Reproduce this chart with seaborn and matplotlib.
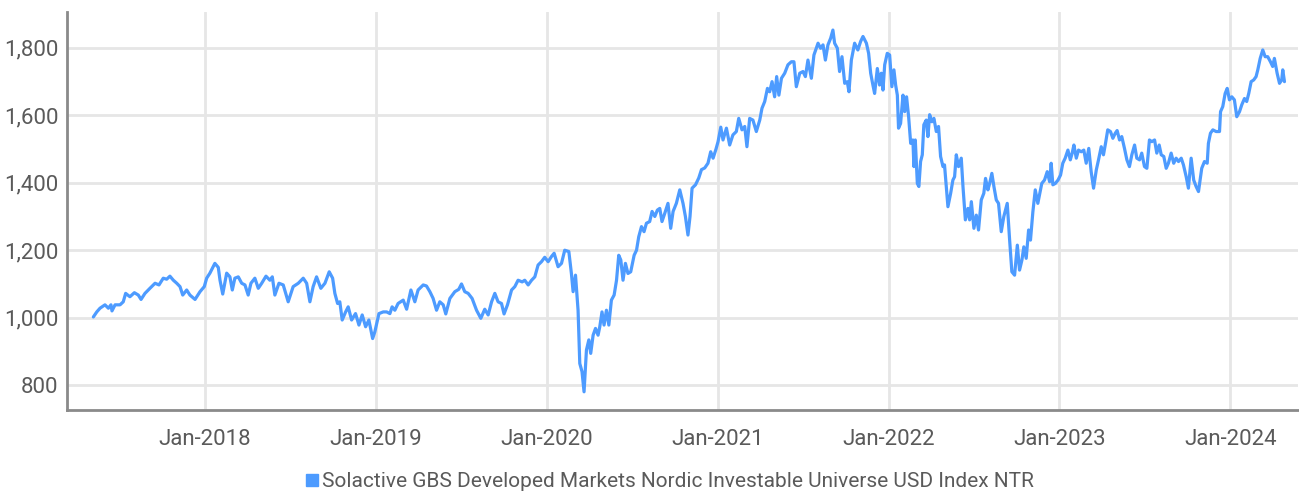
import matplotlib
matplotlib.use("Agg")
import matplotlib.pyplot as plt
import matplotlib.dates as mdates
from matplotlib.lines import Line2D
from matplotlib.ticker import FuncFormatter
import seaborn as sns
import pandas as pd
import numpy as np

# series: decimal year -> index level
years = [
    2017.347, 2017.367, 2017.386, 2017.415, 2017.435, 2017.450, 2017.456, 2017.474, 2017.503, 2017.522,
    2017.536, 2017.561, 2017.587, 2017.610, 2017.626, 2017.649, 2017.678, 2017.708, 2017.731, 2017.756,
    2017.776, 2017.795, 2017.815, 2017.835, 2017.854, 2017.870, 2017.893, 2017.912, 2017.942, 2017.971,
    2017.996, 2018.010, 2018.029, 2018.058, 2018.078, 2018.088, 2018.104, 2018.127, 2018.146, 2018.160,
    2018.175, 2018.195, 2018.215, 2018.234, 2018.253, 2018.269, 2018.292, 2018.312, 2018.332, 2018.357,
    2018.380, 2018.394, 2018.409, 2018.433, 2018.458, 2018.487, 2018.516, 2018.546, 2018.575, 2018.595,
    2018.614, 2018.633, 2018.653, 2018.678, 2018.702, 2018.727, 2018.747, 2018.760, 2018.776, 2018.789,
    2018.803, 2018.823, 2018.838, 2018.858, 2018.881, 2018.901, 2018.920, 2018.940, 2018.959, 2018.981,
    2018.994, 2019.018, 2019.043, 2019.063, 2019.082, 2019.095, 2019.111, 2019.130, 2019.160, 2019.180,
    2019.205, 2019.228, 2019.247, 2019.277, 2019.296, 2019.316, 2019.335, 2019.355, 2019.374, 2019.394,
    2019.409, 2019.433, 2019.462, 2019.485, 2019.501, 2019.520, 2019.540, 2019.563, 2019.589, 2019.614,
    2019.637, 2019.657, 2019.677, 2019.696, 2019.715, 2019.735, 2019.750, 2019.770, 2019.794, 2019.813,
    2019.832, 2019.856, 2019.871, 2019.891, 2019.911, 2019.930, 2019.949, 2019.969, 2019.988, 2020.008,
    2020.027, 2020.043, 2020.066, 2020.086, 2020.105, 2020.129, 2020.144, 2020.154, 2020.168, 2020.183,
    2020.193, 2020.206, 2020.218, 2020.232, 2020.246, 2020.257, 2020.271, 2020.285, 2020.300, 2020.310,
    2020.323, 2020.335, 2020.349, 2020.363, 2020.378, 2020.394, 2020.408, 2020.421, 2020.433, 2020.446,
    2020.460, 2020.475, 2020.491, 2020.511, 2020.525, 2020.538, 2020.554, 2020.569, 2020.583, 2020.602,
    2020.616, 2020.632, 2020.647, 2020.661, 2020.674, 2020.690, 2020.709, 2020.725, 2020.739, 2020.758,
    2020.778, 2020.797, 2020.811, 2020.826, 2020.838, 2020.850, 2020.870, 2020.889, 2020.905, 2020.924,
    2020.943, 2020.959, 2020.973, 2020.990, 2021.002, 2021.018, 2021.031, 2021.051, 2021.070, 2021.089,
    2021.109, 2021.123, 2021.142, 2021.158, 2021.171, 2021.187, 2021.206, 2021.226, 2021.246, 2021.259,
    2021.275, 2021.291, 2021.304, 2021.318, 2021.333, 2021.345, 2021.358, 2021.373, 2021.392, 2021.411,
    2021.431, 2021.446, 2021.460, 2021.480, 2021.499, 2021.513, 2021.528, 2021.548, 2021.563, 2021.587,
    2021.602, 2021.616, 2021.630, 2021.645, 2021.661, 2021.674, 2021.684, 2021.700, 2021.713, 2021.727,
    2021.743, 2021.758, 2021.768, 2021.782, 2021.801, 2021.820, 2021.836, 2021.850, 2021.870, 2021.883,
    2021.895, 2021.908, 2021.918, 2021.934, 2021.947, 2021.957, 2021.967, 2021.977, 2021.992, 2022.006,
    2022.019, 2022.031, 2022.041, 2022.051, 2022.058, 2022.070, 2022.084, 2022.094, 2022.105, 2022.117,
    2022.129, 2022.142, 2022.148, 2022.156, 2022.168, 2022.177, 2022.187, 2022.197, 2022.206, 2022.220,
    2022.230, 2022.240, 2022.253, 2022.265, 2022.279, 2022.292, 2022.304, 2022.318, 2022.327, 2022.337,
    2022.347, 2022.363, 2022.376, 2022.386, 2022.396, 2022.409, 2022.425, 2022.435, 2022.449, 2022.464,
    2022.474, 2022.484, 2022.499, 2022.513, 2022.526, 2022.542, 2022.557, 2022.567, 2022.581, 2022.591,
    2022.604, 2022.616, 2022.630, 2022.643, 2022.659, 2022.674, 2022.694, 2022.708, 2022.721, 2022.737,
    2022.753, 2022.766, 2022.780, 2022.791, 2022.805, 2022.819, 2022.830, 2022.844, 2022.858, 2022.873,
    2022.896, 2022.912, 2022.928, 2022.942, 2022.951, 2022.961, 2022.975, 2022.991, 2023.006, 2023.019,
    2023.033, 2023.049, 2023.063, 2023.074, 2023.084, 2023.098, 2023.111, 2023.127, 2023.142, 2023.156,
    2023.171, 2023.185, 2023.199, 2023.215, 2023.228, 2023.244, 2023.257, 2023.269, 2023.282, 2023.298,
    2023.312, 2023.326, 2023.337, 2023.351, 2023.364, 2023.380, 2023.394, 2023.409, 2023.423, 2023.439,
    2023.452, 2023.468, 2023.481, 2023.497, 2023.511, 2023.526, 2023.540, 2023.556, 2023.569, 2023.583,
    2023.595, 2023.610, 2023.624, 2023.637, 2023.653, 2023.668, 2023.682, 2023.696, 2023.712, 2023.725,
    2023.741, 2023.754, 2023.770, 2023.785, 2023.799, 2023.813, 2023.832, 2023.848, 2023.864, 2023.871,
    2023.883, 2023.897, 2023.916, 2023.936, 2023.942, 2023.955, 2023.969, 2023.981, 2023.994, 2024.008,
    2024.023, 2024.037, 2024.053, 2024.066, 2024.082, 2024.095, 2024.107, 2024.121, 2024.136, 2024.150,
    2024.160, 2024.174, 2024.189, 2024.203, 2024.218, 2024.234, 2024.247, 2024.257, 2024.273, 2024.287,
    2024.300, 2024.306, 2024.316,
]

levels = [
    1002, 1017, 1028, 1038, 1028, 1038, 1020, 1038, 1038, 1047,
    1072, 1062, 1074, 1067, 1054, 1072, 1087, 1102, 1097, 1117,
    1114, 1123, 1111, 1102, 1092, 1067, 1082, 1067, 1054, 1077,
    1092, 1117, 1132, 1161, 1149, 1111, 1070, 1132, 1121, 1082,
    1117, 1121, 1102, 1097, 1067, 1102, 1117, 1087, 1102, 1123,
    1111, 1121, 1067, 1102, 1097, 1047, 1092, 1102, 1117, 1102,
    1047, 1092, 1121, 1087, 1102, 1136, 1117, 1072, 1042, 1047,
    993, 1017, 1032, 993, 1012, 978, 1008, 973, 993, 938,
    958, 1012, 1017, 1017, 1012, 1032, 1022, 1042, 1052, 1025,
    1082, 1047, 1082, 1097, 1094, 1077, 1057, 1022, 1047, 1038,
    1011, 1057, 1077, 1084, 1100, 1077, 1072, 1057, 1022, 998,
    1025, 1008, 1047, 1072, 1047, 1042, 1011, 1038, 1082, 1092,
    1111, 1106, 1111, 1097, 1111, 1121, 1156, 1166, 1179, 1166,
    1181, 1191, 1151, 1161, 1200, 1196, 1131, 1077, 1126, 1022,
    864, 840, 780, 904, 934, 894, 948, 968, 948, 973,
    1017, 978, 1022, 978, 1052, 1067, 1111, 1185, 1171, 1111,
    1161, 1131, 1136, 1185, 1200, 1240, 1270, 1255, 1280, 1285,
    1315, 1300, 1319, 1324, 1285, 1309, 1339, 1265, 1315, 1339,
    1379, 1339, 1300, 1245, 1300, 1384, 1394, 1414, 1439, 1444,
    1458, 1492, 1473, 1500, 1522, 1565, 1527, 1562, 1512, 1542,
    1552, 1591, 1557, 1567, 1507, 1591, 1586, 1552, 1586, 1621,
    1641, 1680, 1670, 1700, 1655, 1715, 1660, 1710, 1725, 1750,
    1759, 1759, 1685, 1725, 1730, 1715, 1764, 1710, 1779, 1814,
    1799, 1809, 1764, 1809, 1829, 1853, 1814, 1799, 1730, 1774,
    1695, 1700, 1670, 1764, 1814, 1794, 1819, 1834, 1814, 1784,
    1725, 1690, 1665, 1739, 1690, 1725, 1675, 1750, 1784, 1779,
    1685, 1735, 1690, 1660, 1562, 1576, 1660, 1611, 1655, 1596,
    1517, 1527, 1448, 1527, 1398, 1389, 1463, 1483, 1572, 1586,
    1537, 1602, 1581, 1591, 1552, 1567, 1478, 1448, 1453, 1389,
    1329, 1369, 1408, 1418, 1483, 1448, 1473, 1389, 1290, 1324,
    1290, 1344, 1265, 1304, 1260, 1349, 1369, 1413, 1379, 1398,
    1428, 1389, 1349, 1339, 1255, 1300, 1339, 1230, 1136, 1126,
    1215, 1141, 1171, 1210, 1176, 1260, 1230, 1314, 1379, 1339,
    1398, 1408, 1433, 1403, 1458, 1394, 1398, 1408, 1423, 1458,
    1473, 1497, 1468, 1488, 1512, 1473, 1497, 1492, 1497, 1458,
    1502, 1433, 1384, 1438, 1468, 1507, 1483, 1517, 1557, 1552,
    1532, 1547, 1555, 1527, 1537, 1502, 1468, 1448, 1483, 1512,
    1473, 1468, 1488, 1448, 1443, 1527, 1522, 1527, 1488, 1512,
    1483, 1478, 1443, 1458, 1488, 1458, 1473, 1463, 1473, 1453,
    1418, 1384, 1473, 1408, 1389, 1374, 1443, 1463, 1458, 1517,
    1547, 1557, 1552, 1552, 1611, 1626, 1665, 1680, 1646, 1655,
    1646, 1596, 1611, 1631, 1650, 1641, 1665, 1700, 1705, 1715,
    1735, 1769, 1794, 1774, 1774, 1759, 1745, 1769, 1725, 1695,
    1705, 1735, 1700,
]

series_name = "Solactive GBS Developed Markets Nordic Investable Universe USD Index NTR"
y_ticks = [800, 1000, 1200, 1400, 1600, 1800]
x_ticks = ["2018-01-01", "2019-01-01", "2020-01-01", "2021-01-01",
           "2022-01-01", "2023-01-01", "2024-01-01"]

yrs = np.array(years)
base = pd.Timestamp("2018-01-01")
df = pd.DataFrame({
    "date": base + pd.to_timedelta((yrs - 2018) * 365.25, unit="D"),
    "value": levels,
})

sns.set_style("white")
plt.rcParams["font.family"] = ["Roboto", "DejaVu Sans"]

line_color = "#4d9bff"
text_color = "#5a5a5a"

fig = plt.figure(figsize=(12.99, 4.94), dpi=100)
ax = fig.add_axes([0.0516, 0.170, 0.948, 0.806])

sns.lineplot(data=df, x="date", y="value", ax=ax, color=line_color,
             linewidth=2.3, legend=False)

ax.set_xlim(base + pd.to_timedelta(-0.807 * 365.25, unit="D"),
            base + pd.to_timedelta(6.398 * 365.25, unit="D"))
ax.set_ylim(726, 1907)

ax.set_yticks(y_ticks)
ax.yaxis.set_major_formatter(FuncFormatter(lambda v, p: f"{int(v):,}"))
ax.set_xticks(pd.to_datetime(x_ticks))
ax.xaxis.set_major_formatter(mdates.DateFormatter("%b-%Y"))

ax.grid(True, color="#e6e6e6", linewidth=2)
ax.set_axisbelow(True)
ax.tick_params(axis="both", length=0, labelsize=16, labelcolor=text_color)
ax.tick_params(axis="x", pad=14)
ax.tick_params(axis="y", pad=6)
ax.set_xlabel("")
ax.set_ylabel("")

for side in ["top", "right"]:
    ax.spines[side].set_visible(False)
for side in ["left", "bottom"]:
    ax.spines[side].set_color("#8a8a8a")
    ax.spines[side].set_linewidth(2)

handle = Line2D([], [], linestyle="none", marker="s", markersize=8,
                color=line_color)
fig.legend([handle], [series_name], loc="center", bbox_to_anchor=(0.514, 0.025),
           frameon=False, fontsize=15, labelcolor=text_color,
           handletextpad=0.0, handlelength=1.0, borderaxespad=0)

fig.savefig("out.png", dpi=100)
